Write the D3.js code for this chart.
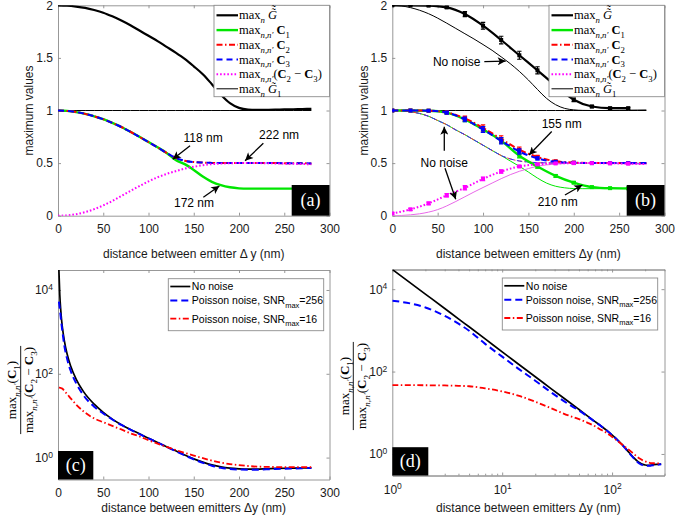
<!DOCTYPE html>
<html><head><meta charset="utf-8">
<script src="https://cdn.jsdelivr.net/npm/d3@7"></script>
<style>body{margin:0;background:#fff}svg{display:block}</style>
</head><body>
<script>
// ---------------- DATA ----------------
const xGrid = [0,10,20,30,40,50,60,70,80,90,100,110,120,130,140,150,160,170,180,190,200,210,220,230,240,250,260,270,280];
// panel (a)
const aG  = [2.000,1.997,1.988,1.975,1.955,1.930,1.895,1.855,1.810,1.760,1.710,1.660,1.605,1.550,1.490,1.420,1.345,1.250,1.150,1.070,1.025,1.008,1.005,1.006,1.008,1.010,1.012,1.014,1.016];
const aC1 = [1.000,0.996,0.985,0.968,0.945,0.917,0.882,0.843,0.798,0.750,0.700,0.650,0.597,0.530,0.490,0.435,0.372,0.322,0.290,0.270,0.260,0.257,0.257,0.257,0.257,0.257,0.257,0.257,0.257];
const aC2 = [1.000,0.996,0.985,0.968,0.945,0.917,0.882,0.843,0.798,0.750,0.700,0.650,0.597,0.550,0.522,0.510,0.505,0.502,0.500,0.500,0.500,0.500,0.500,0.500,0.500,0.499,0.498,0.498,0.497];
const aC3 = [1.000,0.996,0.985,0.968,0.945,0.917,0.882,0.843,0.798,0.750,0.700,0.650,0.597,0.550,0.522,0.510,0.505,0.502,0.500,0.500,0.500,0.500,0.500,0.500,0.500,0.499,0.498,0.498,0.497];
const aP  = [0.000,0.003,0.014,0.034,0.062,0.098,0.140,0.187,0.235,0.282,0.326,0.365,0.397,0.423,0.447,0.465,0.480,0.490,0.495,0.499,0.500,0.500,0.500,0.499,0.497,0.495,0.493,0.491,0.489];
const aG1 = [1,1,1,1,1,1,1,1,1,1,1,1,1,1,1,1,1,1,1,1,1,1,1,1,1,1,1,1,1];
// panel (b) no-noise curves
const bG0  = [2.000,1.994,1.978,1.953,1.920,1.878,1.830,1.780,1.730,1.680,1.627,1.572,1.510,1.445,1.372,1.290,1.200,1.115,1.055,1.020,1.006,1.001,1.000,1.000,1.001,1.002,1.003,1.004,1.005];
const bC1n = [1.000,0.997,0.988,0.972,0.945,0.905,0.865,0.815,0.770,0.720,0.670,0.620,0.572,0.520,0.470,0.415,0.358,0.310,0.280,0.265,0.258,0.257,0.257,0.257,0.257,0.257,0.257,0.257,0.257];
const bC2n = [1.000,0.997,0.988,0.972,0.945,0.905,0.865,0.815,0.770,0.720,0.670,0.620,0.572,0.540,0.520,0.510,0.504,0.502,0.500,0.500,0.500,0.500,0.500,0.500,0.500,0.499,0.498,0.498,0.497];
const bC3n = [1.000,0.997,0.988,0.972,0.945,0.905,0.865,0.815,0.770,0.720,0.670,0.620,0.572,0.540,0.520,0.510,0.504,0.502,0.500,0.500,0.500,0.500,0.500,0.500,0.500,0.499,0.498,0.498,0.497];
const bPn  = [0.000,0.002,0.008,0.018,0.034,0.058,0.093,0.135,0.180,0.225,0.268,0.310,0.352,0.390,0.422,0.448,0.470,0.483,0.491,0.496,0.498,0.499,0.499,0.498,0.496,0.494,0.492,0.490,0.489];
const bG1  = [1,1,1,1,1,1,1,1,1,1,1,1,1,1,1,1,1,1,1,1,1,1,1,1,1,1,1,1,1];
// panel (b) noisy curves with error bars
const nX   = [0,20,40,60,80,100,120,140,160,180,200,220,240,260,280];
const nG   = [2.000,2.000,1.997,1.980,1.917,1.806,1.670,1.525,1.382,1.235,1.102,1.038,1.022,1.022];
const nGe  = [0.004,0.004,0.005,0.010,0.024,0.032,0.036,0.038,0.034,0.028,0.017,0.010,0.008,0.008];
const nC1  = [1.000,1.000,0.998,0.980,0.915,0.820,0.712,0.570,0.467,0.378,0.314,0.272,0.262,0.260];
const nC1e = [0,0,0.003,0.010,0.020,0.025,0.025,0.020,0.015,0.012,0.010,0.006,0.005,0.005];
const nC2  = [1.000,1.000,0.998,0.982,0.925,0.835,0.730,0.628,0.558,0.518,0.505,0.501,0.500,0.500,0.500];
const nC2e = [0,0,0.003,0.012,0.022,0.028,0.030,0.025,0.015,0.008,0.005,0.003,0.003,0.003,0.003];
const nC3  = [1.000,1.000,0.998,0.980,0.915,0.820,0.712,0.610,0.545,0.512,0.503,0.500,0.500,0.500,0.500];
const nC3e = [0,0,0.003,0.012,0.022,0.028,0.030,0.025,0.015,0.008,0.005,0.003,0.003,0.003,0.003];
const nP   = [0.022,0.060,0.117,0.194,0.265,0.350,0.420,0.468,0.488,0.497,0.500,0.500,0.499,0.495,0.490];
const nPe  = [0.008,0.010,0.012,0.015,0.020,0.018,0.015,0.010,0.006,0.005,0.004,0.004,0.004,0.004,0.004];
// panels (c),(d): ratio max(C1)/max(C2-C3)
const rX    = [1,2,3,4,5,7,10,14,20,28,40,50,60,70,80,90,100,110,120,130,140,150,160,170,180,190,200,210,220,230,240,260,280];
const rNo   = [30000,7600,3400,1900,1220,620,300,153,75,38,18.8,12,8.3,6.1,4.7,3.7,2.9,2.3,1.82,1.45,1.15,0.93,0.78,0.67,0.60,0.56,0.54,0.53,0.53,0.54,0.55,0.56,0.57];
const r256  = [5250,3600,2240,1450,980,470,230,118,60,31,16.3,11.3,8.1,6.0,4.65,3.65,2.88,2.28,1.80,1.43,1.13,0.91,0.75,0.64,0.57,0.535,0.52,0.515,0.515,0.525,0.535,0.55,0.565];
const r16   = [47,46.5,46,45,44,39,33,26,18.5,12.8,8.6,7.0,5.7,4.7,3.8,3.2,2.6,2.15,1.80,1.52,1.30,1.12,0.97,0.85,0.76,0.70,0.66,0.63,0.61,0.60,0.595,0.59,0.59];
// ticks & labels
const xTicksLin = [0,50,100,150,200,250,300];
const yTicksAB  = [0,0.5,1,1.5,2];
const yTicksLog = [1,100,10000];
const xTicksLog = [1,10,100];
const panelTags = ['(a)','(b)','(c)','(d)'];
const xTitles = ['distance between emitter \u0394 y (nm)','distance between emitters \u0394y (nm)','distance between emitters \u0394y (nm)','distance between emitters \u0394y (nm)'];
const yTitleAB = 'maximum values';
const legRatio = [['No noise',null,''],['Poisson noise, SNR','max','=256'],['Poisson noise, SNR','max','=16']];
const annotA = [ // text, text x,y (data), arrow from x,y, arrow to x,y
  ['118 nm',160.3,0.745,145.9,0.665,126.8,0.536],
  ['222 nm',244.3,0.767,226.9,0.688,206.7,0.523],
  ['172 nm',150.3,0.124,160.6,0.175,178.3,0.282]];
const annotB = [
  ['155 nm',186.7,0.872,175.7,0.800,150.7,0.577],
  ['210 nm',182.3,0.133,190.3,0.197,209.4,0.292],
  ['No noise',57.3,0.504,57.3,0.618,57.3,0.846],
  [null,0,0,58.1,0.451,69.9,0.156],
  ['No noise',70.9,1.461,101.4,1.464,125,1.470]];

// ---------------- RENDER ----------------
const W=675,H=515;
const svg=d3.select('body').append('svg').attr('width',W).attr('height',H);
const SANS="'Liberation Sans', Arial, sans-serif";
const SERIF="'Liberation Serif','Times New Roman',serif";
const AXC='#8c8c8c';
const defs=svg.append('defs');
defs.append('marker').attr('id','ah').attr('viewBox','0 0 10 10').attr('refX',10).attr('refY',5)
  .attr('markerWidth',9).attr('markerHeight',8).attr('markerUnits','userSpaceOnUse').attr('orient','auto')
  .append('path').attr('d','M0,0 L10,5 L0,10 L2.5,5 Z').attr('fill','#000');

const LAY={
  a:{l:58,r:329.5,t:5.3,b:215.7},
  b:{l:392.3,r:664.5,t:5.3,b:215.7},
  c:{l:58,r:329.5,t:270,b:479.5},
  d:{l:392.3,r:664.5,t:269.5,b:475.5}};
const P={};
P.a={...LAY.a}; P.a.x=d3.scaleLinear([0,300],[LAY.a.l,LAY.a.r]); P.a.y=d3.scaleLinear([0,2],[LAY.a.b,LAY.a.t]);
P.b={...LAY.b}; P.b.x=d3.scaleLinear([0,300],[LAY.b.l,LAY.b.r]); P.b.y=d3.scaleLinear([0,2],[LAY.b.b,LAY.b.t]);
P.c={...LAY.c}; P.c.x=d3.scaleLinear([0,300],[LAY.c.l,LAY.c.r]); P.c.y=d3.scaleLog([0.3,30000],[LAY.c.b,LAY.c.t]);
P.d={...LAY.d}; P.d.x=d3.scaleLog([1,300],[LAY.d.l,LAY.d.r]); P.d.y=d3.scaleLog([0.3,30000],[LAY.d.b,LAY.d.t]);

function supLabels(sel){
  sel.selectAll('.tick text').each(function(d){
    const t=d3.select(this); t.text('10');
    t.append('tspan').attr('dy','-0.5em').attr('font-size',8.5).text(Math.round(Math.log10(d)));
  });
}
function axes(p,o){
  const g=svg.append('g');
  const mk=(gen,tx,ty)=>g.append('g').attr('transform',`translate(${tx},${ty})`).call(gen.tickSizeOuter(0));
  const bx=mk(d3.axisBottom(p.x).tickValues(o.xt).tickSize(-3).tickPadding(o.xpad).tickFormat(o.xf),0,p.b);
  mk(d3.axisTop(p.x).tickValues(o.xt).tickSize(-3).tickFormat(()=>''),0,p.t);
  const ly=mk(d3.axisLeft(p.y).tickValues(o.yt).tickSize(-3).tickPadding(5).tickFormat(o.yf),p.l,0);
  mk(d3.axisRight(p.y).tickValues(o.yt).tickSize(-3).tickFormat(()=>''),p.r,0);
  if(o.minor){
    mk(d3.axisBottom(p.x).tickValues(o.minor).tickSize(-1.8).tickFormat(()=>''),0,p.b);
    mk(d3.axisTop(p.x).tickValues(o.minor).tickSize(-1.8).tickFormat(()=>''),0,p.t);
  }
  g.selectAll('.domain,.tick line').attr('stroke',AXC).attr('stroke-width',0.9);
  g.selectAll('text').attr('font-family',SANS).attr('font-size',12).attr('fill','#1a1a1a');
  if(o.logx) supLabels(bx);
  if(o.logy) supLabels(ly);
  return g;
}
function clip(id,p){
  defs.append('clipPath').attr('id',id).append('rect').attr('x',p.l).attr('y',p.t).attr('width',p.r-p.l).attr('height',p.b-p.t);
  return svg.append('g').attr('clip-path',`url(#${id})`);
}
function curve(g,p,xs,ys,st){
  const data=ys.map((v,i)=>[xs[i],v]);
  const path=g.append('path').datum(data)
    .attr('d',d3.line().x(d=>p.x(d[0])).y(d=>p.y(d[1])).curve(d3.curveMonotoneX))
    .attr('fill','none').attr('stroke',st.c).attr('stroke-width',st.w).attr('stroke-linejoin','round');
  if(st.dash) path.attr('stroke-dasharray',st.dash);
  if(st.cap) path.attr('stroke-linecap',st.cap);
  return path;
}
function errbars(g,p,xs,ys,es,col,n){
  ys.forEach((v,i)=>{
    if(i>=n) return;
    const X=p.x(xs[i]),y1=p.y(v-es[i]),y2=p.y(v+es[i]);
    g.append('line').attr('x1',X).attr('x2',X).attr('y1',y1).attr('y2',y2).attr('stroke',col).attr('stroke-width',1.2);
    [y1,y2].forEach(yy=>g.append('line').attr('x1',X-2.2).attr('x2',X+2.2).attr('y1',yy).attr('y2',yy).attr('stroke',col).attr('stroke-width',1.2));
    g.append('rect').attr('x',X-2).attr('y',p.y(v)-2).attr('width',4).attr('height',4).attr('fill',col);
  });
}
// math-ish row of text
function mathRow(g,x,y,parts,fs){
  let cx=x;
  parts.forEach(pt=>{
    const size=pt.sub?fs*0.7:fs;
    const t=g.append('text').attr('x',cx).attr('y',y+(pt.sub?fs*0.3:0))
      .attr('font-family',SERIF).attr('font-size',size).attr('fill','#000')
      .attr('font-style',pt.it?'italic':'normal').attr('font-weight',pt.b?'bold':'normal')
      .attr('xml:space','preserve').style('white-space','pre').text(pt.t);
    const w=t.node().getComputedTextLength();
    for(let k=0;k<(pt.acc||0);k++){
      g.append('text').attr('x',cx+w*0.62).attr('y',y-fs*0.17-k*fs*0.27).attr('text-anchor','middle')
        .attr('font-family',SERIF).attr('font-size',fs*0.95).attr('fill','#000').text('\u02DC');
    }
    cx+=w;
  });
  return cx-x;
}
const MX=[{t:'max'}];
const legAB=[
  [...MX,{t:'n',sub:1,it:1},{t:' '},{t:'G',it:1,acc:2}],
  [...MX,{t:'n,n\u2032',sub:1,it:1},{t:' '},{t:'C',b:1},{t:'1',sub:1}],
  [...MX,{t:'n,n\u2032',sub:1,it:1},{t:' '},{t:'C',b:1},{t:'2',sub:1}],
  [...MX,{t:'n,n\u2032',sub:1,it:1},{t:' '},{t:'C',b:1},{t:'3',sub:1}],
  [...MX,{t:'n,n\u2032',sub:1,it:1},{t:'('},{t:'C',b:1},{t:'2',sub:1},{t:' \u2212 '},{t:'C',b:1},{t:'3',sub:1},{t:')'}],
  [...MX,{t:'n',sub:1,it:1},{t:' '},{t:'G',it:1,acc:1},{t:'1',sub:1}]];
const ST={
  G:{c:'#000',w:2.2}, C1:{c:'#00e600',w:2.4}, C2:{c:'#ff0000',w:2,dash:'6,2.5,1.5,2.5'},
  C3:{c:'#0000ff',w:2,dash:'6,4'}, P:{c:'#ff00ff',w:2,dash:'1.6,2'}, G1:{c:'#000',w:1}};
const stAB=[ST.G,ST.C1,ST.C2,ST.C3,ST.P,ST.G1];

function legendAB(p){
  const g=svg.append('g');
  const L=p.r-115.5, T=p.t, R=p.r, B=p.t+91.4;
  g.append('rect').attr('x',L).attr('y',T).attr('width',R-L).attr('height',B-T).attr('fill','#fff').attr('stroke',AXC).attr('stroke-width',0.9);
  const rows=[10,24.8,39.5,54.2,69,83.5];
  legAB.forEach((parts,i)=>{
    const yy=T+rows[i], st=stAB[i];
    const ln=g.append('line').attr('x1',L+2.5).attr('x2',L+24).attr('y1',yy).attr('y2',yy).attr('stroke',st.c).attr('stroke-width',st.w);
    if(st.dash) ln.attr('stroke-dasharray',st.dash);
    mathRow(g,L+25,yy+4,parts,12.5);
  });
}
function tagBox(p,txt,w,h){
  const g=svg.append('g');
  g.append('rect').attr('x',p.r-w).attr('y',p.b-h).attr('width',w).attr('height',h).attr('fill','#000');
  g.append('text').attr('x',p.r-w/2).attr('y',p.b-h/2).attr('dy','0.33em').attr('text-anchor','middle')
    .attr('font-family',SERIF).attr('font-size',18).attr('fill','#fff').text(txt);
}
function tagBoxL(p,txt,w,h){
  const g=svg.append('g');
  g.append('rect').attr('x',p.l).attr('y',p.b-h).attr('width',w).attr('height',h).attr('fill','#000');
  g.append('text').attr('x',p.l+w/2).attr('y',p.b-h/2).attr('dy','0.33em').attr('text-anchor','middle')
    .attr('font-family',SERIF).attr('font-size',18).attr('fill','#fff').text(txt);
}
function annot(p,list){
  const g=svg.append('g');
  list.forEach(a=>{
    if(a[0]) g.append('text').attr('x',p.x(a[1])).attr('y',p.y(a[2])).attr('dy','0.36em').attr('text-anchor','middle')
      .attr('font-family',SANS).attr('font-size',12).attr('fill','#000').text(a[0]);
    g.append('line').attr('x1',p.x(a[3])).attr('y1',p.y(a[4])).attr('x2',p.x(a[5])).attr('y2',p.y(a[6]))
      .attr('stroke','#000').attr('stroke-width',1.3).attr('marker-end','url(#ah)');
  });
}
function xTitle(p,txt,y){
  svg.append('text').attr('x',(p.l+p.r)/2).attr('y',y).attr('text-anchor','middle')
    .attr('font-family',SANS).attr('font-size',12).attr('fill','#1a1a1a').text(txt);
}
function yTitle(x,y,txt){
  svg.append('text').attr('transform',`translate(${x},${y}) rotate(-90)`).attr('dy','0.35em').attr('text-anchor','middle')
    .attr('font-family',SANS).attr('font-size',12).attr('fill','#1a1a1a').text(txt);
}
function fracTitle(x,y){
  const g=svg.append('g').attr('transform',`translate(${x},${y}) rotate(-90)`);
  const fs=13;
  const num=[...MX,{t:'n,n\u2032',sub:1,it:1},{t:'('},{t:'C',b:1},{t:'1',sub:1},{t:')'}];
  const den=[...MX,{t:'n,n\u2032',sub:1,it:1},{t:'('},{t:'C',b:1},{t:'2',sub:1},{t:' \u2212 '},{t:'C',b:1},{t:'3',sub:1},{t:')'}];
  const gn=g.append('g'), gd=g.append('g');
  const wn=mathRow(gn,0,-4.5,num,fs), wd=mathRow(gd,0,12.5,den,fs);
  gn.attr('transform',`translate(${-wn/2},0)`); gd.attr('transform',`translate(${-wd/2},0)`);
  const wl=Math.max(wn,wd)+2;
  g.append('line').attr('x1',-wl/2).attr('x2',wl/2).attr('y1',0).attr('y2',0).attr('stroke','#000').attr('stroke-width',0.9);
}
function legendR(p,L,T){
  const g=svg.append('g');
  g.append('rect').attr('x',L).attr('y',T).attr('width',155.4).attr('height',52).attr('fill','#fff').attr('stroke',AXC).attr('stroke-width',0.9);
  const rows=[7.8,21.8,40];
  const sts=[{c:'#000',w:1.7},{c:'#0000ff',w:2,dash:'7,4'},{c:'#ff0000',w:1.8,dash:'6,2.5,1.5,2.5'}];
  legRatio.forEach((e,i)=>{
    const yy=T+rows[i];
    const ln=g.append('line').attr('x1',L+2).attr('x2',L+22).attr('y1',yy).attr('y2',yy).attr('stroke',sts[i].c).attr('stroke-width',sts[i].w);
    if(sts[i].dash) ln.attr('stroke-dasharray',sts[i].dash);
    const t=g.append('text').attr('x',L+23.5).attr('y',yy+3.8).attr('font-family',SANS).attr('font-size',10.5).attr('fill','#000').text(e[0]);
    if(e[1]){ t.append('tspan').attr('dy',3.2).attr('font-size',7.5).text(e[1]); t.append('tspan').attr('dy',-3.2).text(e[2]); }
  });
}

// ---- panel (a)
axes(P.a,{xt:xTicksLin,yt:yTicksAB,xf:d=>d,yf:d=>d,xpad:9});
{
  const g=clip('ca',P.a);
  curve(g,P.a,xGrid,aG1,ST.G1);
  curve(g,P.a,xGrid,aG,ST.G);
  curve(g,P.a,xGrid,aC1,ST.C1);
  curve(g,P.a,xGrid,aC2,ST.C2);
  curve(g,P.a,xGrid,aC3,ST.C3);
  curve(g,P.a,xGrid,aP,ST.P);
}
legendAB(P.a); tagBox(P.a,panelTags[0],37.8,30.7); annot(P.a,annotA);
xTitle(P.a,xTitles[0],258); yTitle(29,(P.a.t+P.a.b)/2,yTitleAB);

// ---- panel (b)
axes(P.b,{xt:xTicksLin,yt:yTicksAB,xf:d=>d,yf:d=>d,xpad:9});
{
  const g=clip('cb',P.b);
  const thin=w=>w;
  curve(g,P.b,xGrid,bG1,{c:'#000',w:1});
  curve(g,P.b,xGrid,bG0,{c:'#000',w:1});
  curve(g,P.b,xGrid,bC1n,{c:'#00e600',w:1});
  curve(g,P.b,xGrid,bC2n,{c:'#ff3030',w:1,dash:'5,2,1.5,2'});
  curve(g,P.b,xGrid,bC3n,{c:'#3030ff',w:1,dash:'5,3'});
  curve(g,P.b,xGrid,bPn,{c:'#e868e8',w:1});
  curve(g,P.b,nX,nG,ST.G);    errbars(g,P.b,nX,nG,nGe,'#000',14);
  curve(g,P.b,nX,nC1,ST.C1);  errbars(g,P.b,nX,nC1,nC1e,'#00e600',14);
  curve(g,P.b,nX,nC2,ST.C2);  errbars(g,P.b,nX,nC2,nC2e,'#ff0000',14);
  curve(g,P.b,nX,nC3,ST.C3);  errbars(g,P.b,nX,nC3,nC3e,'#0000ff',14);
  curve(g,P.b,nX,nP,ST.P);    errbars(g,P.b,nX,nP,nPe,'#ff00ff',14);
}
legendAB(P.b); tagBox(P.b,panelTags[1],37.8,30.7); annot(P.b,annotB);
xTitle(P.b,xTitles[1],258); yTitle(364,(P.b.t+P.b.b)/2,yTitleAB);

// ---- panel (c)
axes(P.c,{xt:xTicksLin,yt:yTicksLog,xf:d=>d,yf:()=>'',xpad:8.5,logy:1});
{
  const g=clip('cc',P.c);
  curve(g,P.c,rX,rNo,{c:'#000',w:1.7});
  curve(g,P.c,rX,r256,{c:'#0000ff',w:2,dash:'7,4'});
  curve(g,P.c,rX,r16,{c:'#ff0000',w:1.8,dash:'6,2.5,1.5,2.5'});
}
legendR(P.c,168.3,278.7); tagBoxL(P.c,panelTags[2],35.3,28.5);
xTitle(P.c,xTitles[2],511.5); fracTitle(20.7,390);

// ---- panel (d)
const minorX=[2,3,4,5,6,7,8,9,20,30,40,50,60,70,80,90,200,300];
axes(P.d,{xt:xTicksLog,yt:yTicksLog,xf:()=>'',yf:()=>'',xpad:9.5,logx:1,logy:1,minor:minorX});
{
  const g=clip('cd',P.d);
  curve(g,P.d,rX,rNo,{c:'#000',w:1.7});
  curve(g,P.d,rX,r256,{c:'#0000ff',w:2,dash:'7,4'});
  curve(g,P.d,rX,r16,{c:'#ff0000',w:1.8,dash:'6,2.5,1.5,2.5'});
}
legendR(P.d,502.3,278); tagBoxL(P.d,panelTags[3],36,28.3);
xTitle(P.d,xTitles[3],511.5); fracTitle(353.3,386);
</script>
</body></html>
